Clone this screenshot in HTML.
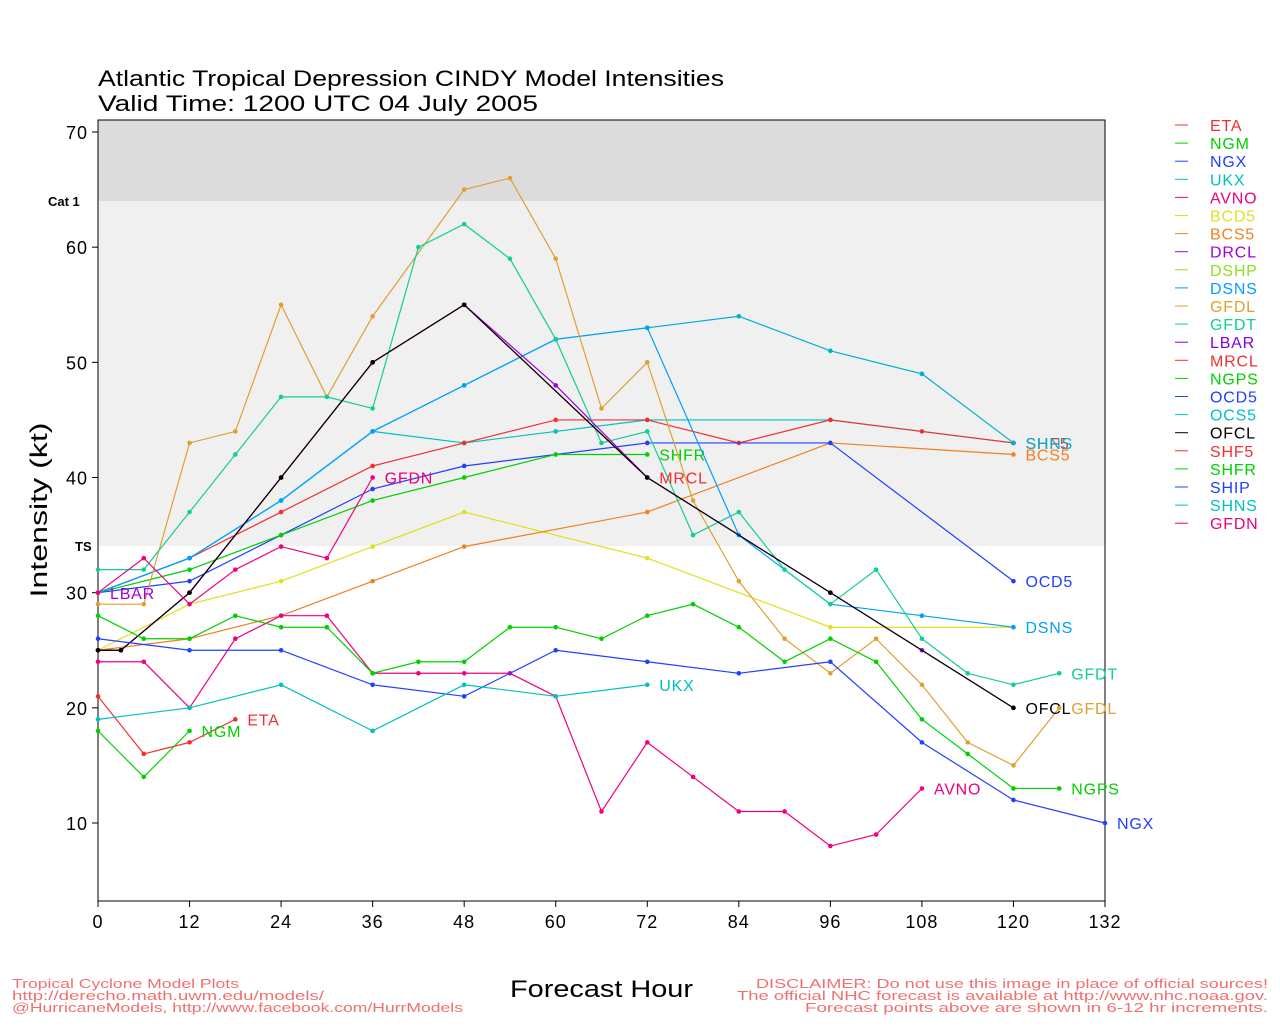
<!DOCTYPE html>
<html><head><meta charset="utf-8"><style>
html,body{margin:0;padding:0;background:#fff;}
svg text{font-family:"Liberation Sans",sans-serif;}
</style></head><body>
<svg id="s" width="1280" height="1024" xmlns="http://www.w3.org/2000/svg">
<rect x="0" y="0" width="1280" height="1024" fill="#fff"/>
<rect x="98" y="120" width="1007" height="81" fill="#dcdcdc"/>
<rect x="98" y="201" width="1007" height="345" fill="#f0f0f0"/>
<rect x="98" y="120" width="1007" height="781" fill="none" stroke="#000" stroke-width="1"/>
<text x="98" y="86" font-size="22" textLength="626" lengthAdjust="spacingAndGlyphs">Atlantic Tropical Depression CINDY Model Intensities</text>
<text x="98" y="111" font-size="22" textLength="440" lengthAdjust="spacingAndGlyphs">Valid Time: 1200 UTC 04 July 2005</text>
<text x="48" y="206" font-size="13" font-weight="bold">Cat 1</text>
<text x="75" y="551" font-size="13" font-weight="bold">TS</text>
<text transform="translate(47,510) rotate(-90)" font-size="24" text-anchor="middle" textLength="175" lengthAdjust="spacingAndGlyphs">Intensity (kt)</text>
<text x="510" y="997" font-size="24" textLength="183" lengthAdjust="spacingAndGlyphs">Forecast Hour</text>
<g font-size="13" fill="#f07070">
<text x="12" y="988" textLength="227" lengthAdjust="spacingAndGlyphs">Tropical Cyclone Model Plots</text>
<text x="12" y="1000" textLength="312" lengthAdjust="spacingAndGlyphs">http://derecho.math.uwm.edu/models/</text>
<text x="12" y="1012" textLength="451" lengthAdjust="spacingAndGlyphs">@HurricaneModels, http://www.facebook.com/HurrModels</text>
<text x="756" y="988" textLength="512" lengthAdjust="spacingAndGlyphs">DISCLAIMER: Do not use this image in place of official sources!</text>
<text x="737" y="1000" textLength="531" lengthAdjust="spacingAndGlyphs">The official NHC forecast is available at http://www.nhc.noaa.gov.</text>
<text x="805" y="1012" textLength="463" lengthAdjust="spacingAndGlyphs">Forecast points above are shown in 6-12 hr increments.</text>
</g>
<g id="g"></g>
</svg>
<script>
var g=document.getElementById('g'),NS='http://www.w3.org/2000/svg';
function px(h){return 98+h*1007/132;}function py(v){return 823-(v-10)*691/60;}
function el(t,a,txt){var e=document.createElementNS(NS,t);for(var k in a)e.setAttribute(k,a[k]);if(txt)e.textContent=txt;g.appendChild(e);return e;}
for(var h=0;h<=132;h+=12){el('line',{x1:px(h),x2:px(h),y1:901,y2:907,stroke:'#000'});el('text',{x:px(h),y:928,'font-size':18,'text-anchor':'middle','letter-spacing':1},String(h));}
for(var v=10;v<=70;v+=10){el('line',{x1:92,x2:98,y1:py(v),y2:py(v),stroke:'#000'});el('text',{x:88,y:py(v)+7,'font-size':18,'text-anchor':'end','letter-spacing':1},String(v));}
var S=[
['OCS5','#00c0c0',[[0,30],[12,33],[24,38],[36,44],[48,43],[60,44],[72,45],[96,45],[120,43]],null],
['SHF5','#f03030',[[0,30],[12,33],[24,37],[36,41],[48,43],[60,45],[72,45],[84,43],[96,45],[108,44],[120,43]],'SHF5'],
['BCD5','#e0e020',[[0,25],[12,29],[24,31],[36,34],[48,37],[72,33],[96,27],[120,27]],null],
['BCS5','#f08020',[[0,25],[12,26],[24,28],[36,31],[48,34],[72,37],[96,43],[120,42]],'BCS5'],
['SHIP','#2040ff',[[0,30],[12,31],[24,35],[36,39],[48,41],[72,43],[96,43],[120,31]],'OCD5'],
['SHFR','#00d000',[[0,30],[12,32],[24,35],[36,38],[48,40],[60,42],[72,42]],'SHFR'],
['SHNS','#00b0d0',[[0,30],[12,33],[24,38],[36,44],[48,48],[60,52],[72,53],[84,54],[96,51],[108,49],[120,43]],'SHNS'],
['DSNS','#00a0ff',[[0,30],[12,33],[24,38],[36,44],[48,48],[60,52],[72,53],[84,35],[96,29],[108,28],[120,27]],'DSNS'],
['GFDL','#e0a030',[[0,29],[6,29],[12,43],[18,44],[24,55],[30,47],[36,54],[48,65],[54,66],[60,59],[66,46],[72,50],[78,38],[84,31],[90,26],[96,23],[102,26],[108,22],[114,17],[120,15],[126,20]],'GFDL'],
['GFDT','#10d090',[[0,32],[6,32],[12,37],[18,42],[24,47],[30,47],[36,46],[42,60],[48,62],[54,59],[60,52],[66,43],[72,44],[78,35],[84,37],[90,32],[96,29],[102,32],[108,26],[114,23],[120,22],[126,23]],'GFDT'],
['MRCL','#f03030',[[0,25],[3,25],[12,30],[24,40],[36,50],[48,55],[72,40]],'MRCL'],
['DRCL','#a000e0',[[0,25],[3,25],[12,30],[24,40],[36,50],[48,55],[60,48],[72,40],[96,30],[108,25],[120,20]],null],
['OFCL','#000000',[[0,25],[3,25],[12,30],[24,40],[36,50],[48,55],[72,40],[96,30],[120,20]],'OFCL'],
['ETA','#f03030',[[0,21],[6,16],[12,17],[18,19]],'ETA'],
['NGM','#00d000',[[0,18],[6,14],[12,18]],'NGM'],
['GFDN','#f00080',[[0,30],[6,33],[12,29],[18,32],[24,34],[30,33],[36,40]],'GFDN'],
['AVNO','#f00080',[[0,24],[6,24],[12,20],[18,26],[24,28],[30,28],[36,23],[42,23],[48,23],[54,23],[60,21],[66,11],[72,17],[78,14],[84,11],[90,11],[96,8],[102,9],[108,13]],'AVNO'],
['NGPS','#00d000',[[0,28],[6,26],[12,26],[18,28],[24,27],[30,27],[36,23],[42,24],[48,24],[54,27],[60,27],[66,26],[72,28],[78,29],[84,27],[90,24],[96,26],[102,24],[108,19],[114,16],[120,13],[126,13]],'NGPS'],
['NGX','#2040ff',[[0,26],[12,25],[24,25],[36,22],[48,21],[60,25],[72,24],[84,23],[96,24],[108,17],[120,12],[132,10]],'NGX'],
['UKX','#00c0c0',[[0,19],[12,20],[24,22],[36,18],[48,22],[60,21],[72,22]],'UKX']
];
S.forEach(function(s){var p=s[2];el('polyline',{points:p.map(function(q){return px(q[0])+','+py(q[1]);}).join(' '),fill:'none',stroke:s[1],'stroke-width':1.2});
p.forEach(function(q){el('circle',{cx:px(q[0]),cy:py(q[1]),r:2.3,fill:s[1]});});
if(s[3]){var l=p[p.length-1];el('text',{x:px(l[0])+12,y:py(l[1])+6,'font-size':16,fill:s[1],'letter-spacing':0.8},s[3]);}});
el('text',{x:110,y:599,'font-size':16,fill:'#a000e0','letter-spacing':0.8},'LBAR');
var L=[['ETA','#f03030'],['NGM','#00d000'],['NGX','#2040ff'],['UKX','#00c0c0'],['AVNO','#f00080'],['BCD5','#e0e020'],['BCS5','#f08020'],['DRCL','#a000e0'],['DSHP','#90e020'],['DSNS','#00a0ff'],['GFDL','#e0a030'],['GFDT','#10d090'],['LBAR','#8000e0'],['MRCL','#f03030'],['NGPS','#00d000'],['OCD5','#2040ff'],['OCS5','#00c0c0'],['OFCL','#000000'],['SHF5','#f03030'],['SHFR','#00d000'],['SHIP','#2040ff'],['SHNS','#00c0c0'],['GFDN','#f00080']];
L.forEach(function(a,i){var y=125+i*18.1;el('line',{x1:1175,x2:1188,y1:y,y2:y,stroke:a[1]});el('text',{x:1210,y:y+6,'font-size':16,fill:a[1],'letter-spacing':0.8},a[0]);});
</script>
</body></html>
